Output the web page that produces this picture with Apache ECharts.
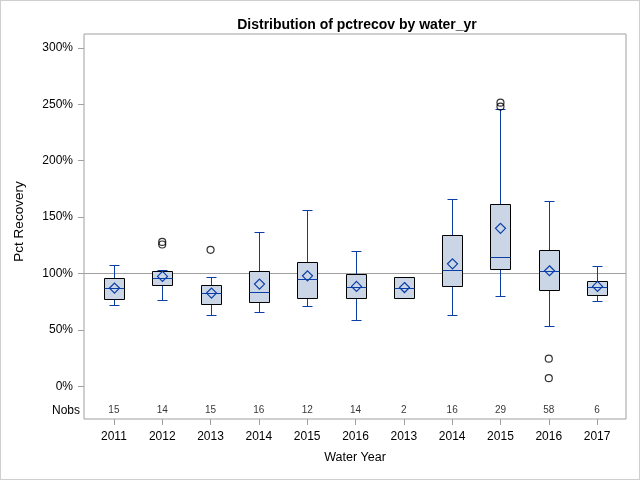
<!DOCTYPE html>
<html>
<head>
<meta charset="utf-8">
<script src="https://cdn.jsdelivr.net/npm/echarts@6/dist/echarts.min.js"></script>
<style>
html,body{margin:0;padding:0;background:#fff;}
#main{width:640px;height:480px;box-sizing:border-box;border:1px solid #cfcfcf;}
</style>
</head>
<body>
<div id="main"></div>
<script>
// ---- data ----
const years   = ['2011','2012','2013','2014','2015','2016','2013','2014','2015','2016','2017'];
const mins    = [72.1, 76.5, 63.2, 65.9, 71.2, 58.8, 78.2, 63.2,  80.0,  53.5,  75.6];
const q1s     = [77.4, 89.7, 73.2, 74.7, 78.2, 78.2, 78.2, 88.8, 103.8,  85.3,  80.9];
const medians = [86.8, 95.9, 82.6, 83.5, 95.0, 88.0, 87.5,102.9, 114.4, 102.6,  88.0];
const q3s     = [95.6,102.0, 90.0,102.3,110.3, 99.4, 96.8,133.8, 161.2, 120.6,  93.2];
const maxs    = [107.4,103.5,96.8,136.5,155.9,119.7, 96.8,165.9, 245.6, 164.7, 106.5];
const means   = [87.0, 97.4, 82.6, 90.6, 97.9, 88.5, 87.5,108.5, 140.0, 102.4,  88.5];
const nobs    = [15, 14, 15, 16, 12, 14, 2, 16, 29, 58, 6];
const outliers = [[1,128.0],[1,125.7],[2,121.0],[8,251.5],[8,248.0],[9,24.4],[9,7.1]];
const yTicks  = [0, 50, 100, 150, 200, 250, 300];
const refValue = 100;
const nobsRow = -21.5;

const FONT = 'Liberation Sans, Arial, sans-serif';
const BLUE = '#0a3ea6';
const FILL = '#cad5e6';
const GRAY = '#a0a0a0';

const boxData = years.map((y, i) => [i, mins[i], q1s[i], medians[i], q3s[i], maxs[i], means[i]]);

const chart = echarts.init(document.getElementById('main'), null, {renderer: 'canvas'});

const option = {
  animation: false,
  title: {
    text: 'Distribution of pctrecov by water_yr',
    left: 351, top: 12, textAlign: 'center',
    textStyle: {fontFamily: FONT, fontSize: 14, fontWeight: 'bold', color: '#000'}
  },
  grid: {left: 83, right: 13, top: 33, bottom: 60, show: true, borderColor: GRAY, borderWidth: 1, backgroundColor: '#fff'},
  xAxis: {
    type: 'value', min: -0.619, max: 10.598,
    name: 'Water Year', nameLocation: 'middle', nameGap: 32,
    nameTextStyle: {fontFamily: FONT, fontSize: 12.5, color: '#000'},
    axisLine: {show: false, onZero: false},
    splitLine: {show: false},
    axisTick: {show: true, length: 6, customValues: years.map((y, i) => i), lineStyle: {color: GRAY}},
    axisLabel: {customValues: years.map((y, i) => i), formatter: v => years[Math.round(v)], margin: 12,
      fontFamily: FONT, fontSize: 12, color: '#000'}
  },
  yAxis: [{
    type: 'value', min: -29.1, max: 312.4,
    name: 'Pct Recovery', nameLocation: 'middle', nameGap: 58,
    nameTextStyle: {fontFamily: FONT, fontSize: 13.5, color: '#000', padding: [0, 0, 0, 10]},
    axisLine: {show: false, onZero: false},
    splitLine: {show: false},
    axisTick: {show: true, length: 6, customValues: yTicks, lineStyle: {color: GRAY}},
    axisLabel: {customValues: yTicks, formatter: v => v + '%', margin: 11, fontFamily: FONT, fontSize: 12, color: '#000'}
  }, {
    type: 'value', min: -29.1, max: 312.4, position: 'left',
    axisLine: {show: false, onZero: false}, splitLine: {show: false}, axisTick: {show: false},
    axisLabel: {customValues: [nobsRow], formatter: () => 'Nobs', margin: 4, fontFamily: FONT, fontSize: 12, color: '#000'}
  }],
  series: [
    {
      type: 'scatter', z: 1, yAxisIndex: 0,
      symbolSize: 0,
      data: nobs.map((n, i) => [i, nobsRow, n]),
      label: {show: true, position: 'inside', formatter: p => String(p.value[2]),
        fontFamily: FONT, fontSize: 10, color: '#000'},
      markLine: {
        silent: true, symbol: 'none', z: 1,
        label: {show: false},
        lineStyle: {color: GRAY, width: 1, type: 'solid'},
        data: [{yAxis: refValue}]
      }
    },
    {
      type: 'custom', z: 3,
      data: boxData,
      encode: {x: 0, y: [1, 2, 3, 4, 5, 6]},
      renderItem: function (params, api) {
        const x = api.value(0);
        const pLo = api.coord([x, api.value(1)]);
        const pQ1 = api.coord([x, api.value(2)]);
        const pMed = api.coord([x, api.value(3)]);
        const pQ3 = api.coord([x, api.value(4)]);
        const pHi = api.coord([x, api.value(5)]);
        const pMean = api.coord([x, api.value(6)]);
        const cx = Math.round(pMed[0]) + 0.5;
        const hw = 10, cw = 5, dm = 5;
        const r = v => Math.round(v) + 0.5;
        const blue = {stroke: BLUE, lineWidth: 1, fill: null};
        return {
          type: 'group',
          children: [
            {type: 'line', shape: {x1: cx, y1: r(pQ3[1]), x2: cx, y2: r(pHi[1])}, style: blue},
            {type: 'line', shape: {x1: cx, y1: r(pQ1[1]), x2: cx, y2: r(pLo[1])}, style: blue},
            {type: 'line', shape: {x1: cx - cw, y1: r(pHi[1]), x2: cx + cw, y2: r(pHi[1])}, style: blue},
            {type: 'line', shape: {x1: cx - cw, y1: r(pLo[1]), x2: cx + cw, y2: r(pLo[1])}, style: blue},
            {type: 'rect', shape: {x: cx - hw, y: r(pQ3[1]), width: 2 * hw, height: r(pQ1[1]) - r(pQ3[1])},
              style: {fill: FILL, stroke: '#000', lineWidth: 1}},
            {type: 'line', shape: {x1: cx - hw, y1: r(pMed[1]), x2: cx + hw, y2: r(pMed[1])}, style: blue},
            {type: 'polygon', shape: {points: [[cx, pMean[1] - dm], [cx + dm, pMean[1]], [cx, pMean[1] + dm], [cx - dm, pMean[1]]]},
              style: {fill: null, stroke: BLUE, lineWidth: 1.2}}
          ]
        };
      }
    },
    {
      type: 'scatter', z: 4,
      data: outliers,
      symbol: 'circle', symbolSize: 7,
      itemStyle: {color: 'rgba(0,0,0,0)', borderColor: '#000', borderWidth: 1.2}
    }
  ]
};
chart.setOption(option);
</script>
</body>
</html>
